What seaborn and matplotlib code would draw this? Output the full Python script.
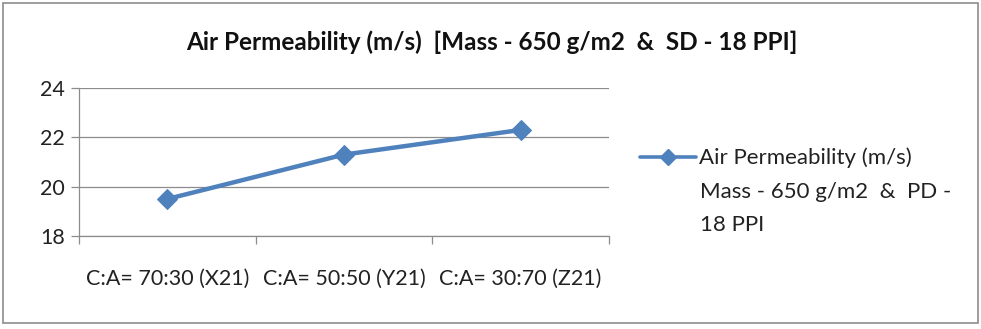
import matplotlib
matplotlib.use("Agg")
import matplotlib.pyplot as plt
from matplotlib.patches import Rectangle
from matplotlib.lines import Line2D
import seaborn as sns
import pandas as pd

categories = ["C:A= 70:30 (X21)", "C:A= 50:50 (Y21)", "C:A= 30:70 (Z21)"]
air_permeability = [19.5, 21.3, 22.3]
y_ticks = [18, 20, 22, 24]
title = "Air Permeability (m/s)  [Mass - 650 g/m2  &  SD - 18 PPI]"
legend_lines = ["Air Permeability (m/s)", "Mass - 650 g/m2  &  PD -", "18 PPI"]

sns.set_theme(style="white")
plt.rcParams["font.family"] = ["Lato", "DejaVu Sans"]

df = pd.DataFrame({"pos": list(range(len(categories))), "value": air_permeability})

W, H = 981, 329
fig = plt.figure(figsize=(W / 100, H / 100), dpi=100)
fig.patch.set_facecolor("white")
ax = fig.add_axes([79 / W, 1 - 236 / H, (609 - 79) / W, (236 - 88) / H])

line_color = "#4F81BD"
text_color = "#222222"
sns.lineplot(data=df, x="pos", y="value", ax=ax, color=line_color, linewidth=3.2,
             marker="D", markersize=10, markeredgecolor=line_color, legend=False)

ax.set_xlim(-0.5, len(categories) - 0.5)
ax.set_ylim(y_ticks[0], y_ticks[-1])
ax.set_yticks(y_ticks)
ax.set_yticklabels([str(t) for t in y_ticks], fontsize=15.5, color=text_color)
ax.yaxis.grid(True, color="#8c8c8c", linewidth=0.9)
ax.set_axisbelow(True)

# category boundaries carry the tick marks, labels sit at category centres
ax.set_xticks([i - 0.5 for i in range(len(categories) + 1)])
ax.set_xticklabels([])
ax.set_xticks(list(range(len(categories))), minor=True)
ax.set_xticklabels(categories, minor=True, fontsize=15.5, color=text_color)
ax.tick_params(axis="x", which="major", length=6, width=0.9, color="#8c8c8c", direction="out", bottom=True)
ax.tick_params(axis="x", which="minor", length=0, pad=24)
ax.tick_params(axis="y", length=6, width=0.9, color="#8c8c8c", direction="out", left=True, pad=4)
ax.set_xlabel("")
ax.set_ylabel("")

for side in ["top", "right"]:
    ax.spines[side].set_visible(False)
for side in ["left", "bottom"]:
    ax.spines[side].set_color("#8c8c8c")
    ax.spines[side].set_linewidth(0.9)

fig.text(492 / W, 1 - 42 / H, title, ha="center", va="center", fontsize=17.5,
         fontweight="bold", color="#111111")

# legend: sample line with marker, then wrapped label text
handle = Line2D([], [], color=line_color, linewidth=2.6, marker="D", markersize=8,
                markeredgecolor=line_color)
leg = fig.legend([handle], [legend_lines[0]], loc="center left",
                 bbox_to_anchor=(640 / W, 1 - 158 / H), frameon=False,
                 fontsize=16, handlelength=2.5, handletextpad=0.15, borderpad=0,
                 borderaxespad=0)
for t in leg.get_texts():
    t.set_color(text_color)
for i, txt in enumerate(legend_lines[1:], start=1):
    fig.text(700 / W, 1 - (158 + 33.5 * i) / H, txt, ha="left", va="center",
             fontsize=16, color=text_color)

fig.patches.append(Rectangle((2.5 / W, 1 - 322.5 / H), (978 - 2.5) / W, (322.5 - 2.5) / H,
                             transform=fig.transFigure, fill=False,
                             edgecolor="#8c8c8c", linewidth=1.2))

fig.savefig("out.png", dpi=100, facecolor="white")
